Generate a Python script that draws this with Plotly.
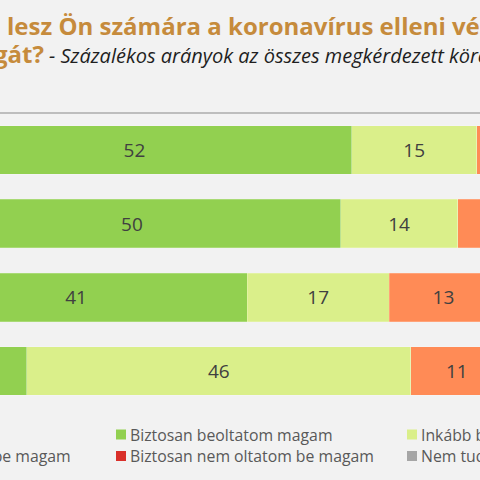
import plotly.graph_objects as go

# ---- data ----
categories = ["1. csoport", "2. csoport", "3. csoport", "4. csoport"]
offset = [10.1, 10.8, 8.6, 15.2]          # invisible helper series (diverging layout)
biztosan_igen = [52, 50, 41, 8]
inkabb_igen = [15, 14, 17, 46]
inkabb_nem = [3, 7, 13, 11]
biztosan_nem = [20, 21, 21, 9]
nem_tudja = [10, 8, 8, 26]

series = [
    ("Biztosan beoltatom magam", biztosan_igen, "#92D050"),
    ("Inkább beoltatom magam", inkabb_igen, "#DAEF8A"),
    ("Inkább nem oltatom be magam", inkabb_nem, "#FF8B56"),
    ("Biztosan nem oltatom be magam", biztosan_nem, "#D9302A"),
    ("Nem tudja", nem_tudja, "#A6A6A6"),
]

BG = "#F2F2F2"
W, H = 480, 480
T, B = 113, 72
PH = H - T - B

def px(x):
    return x / W

def py(y):
    return (H - B - y) / PH

fig = go.Figure()
fig.add_trace(go.Bar(
    y=categories, x=offset, orientation="h", name="",
    marker=dict(color="rgba(0,0,0,0)"), hoverinfo="skip", showlegend=False,
))
for name, vals, col in series:
    fig.add_trace(go.Bar(
        y=categories, x=vals, orientation="h", name=name,
        marker=dict(color=col, line=dict(color="rgba(255,255,255,0.35)", width=0.6)),
        text=vals, texttemplate="%{text}", textposition="inside",
        insidetextanchor="middle", textangle=0, constraintext="none",
        textfont=dict(family="Open Sans", size=19, color="#404040"),
        showlegend=False,
    ))

k = 8.35
x0 = 20
fig.update_layout(
    width=W, height=H,
    margin=dict(l=0, r=0, t=T, b=B, pad=0),
    paper_bgcolor=BG, plot_bgcolor=BG,
    barmode="stack", bargap=0.34,
    showlegend=False,
    xaxis=dict(range=[x0, x0 + W / k], visible=False, fixedrange=True),
    yaxis=dict(categoryorder="array", categoryarray=categories, autorange="reversed",
               showticklabels=False, showgrid=False, zeroline=False, showline=False),
    font=dict(family="Open Sans"),
)

# top border line
fig.add_shape(type="line", xref="paper", yref="paper", x0=0, x1=1, y0=py(113), y1=py(113),
              line=dict(color="#ABABAB", width=1.5))

# title
title_col = "#C68B3C"
fig.add_annotation(xref="paper", yref="paper", x=px(2), y=py(25.7), xanchor="right", yanchor="middle",
                   text="<b>Mennyire valószínű, hogy ha elérhető</b>", showarrow=False,
                   font=dict(family="Open Sans", size=24, color=title_col))
fig.add_annotation(xref="paper", yref="paper", x=px(5), y=py(25.7), xanchor="left", yanchor="middle",
                   text="<b>lesz Ön számára a koronavírus elleni védőoltás, beoltatja</b>", showarrow=False,
                   font=dict(family="Open Sans", size=24, color=title_col))
fig.add_annotation(xref="paper", yref="paper", x=px(46), y=py(53.7), xanchor="right", yanchor="middle",
                   text="<b>magát?</b>", showarrow=False,
                   font=dict(family="Open Sans", size=24, color=title_col))
fig.add_annotation(xref="paper", yref="paper", x=px(47), y=py(55.2), xanchor="left", yanchor="middle",
                   text="<i>- Százalékos arányok az összes megkérdezett körében</i>", showarrow=False,
                   font=dict(family="Open Sans", size=20, color="#1F1F1F"))

# legend (manual, 3 columns x 2 rows)
col_x = [-175, 116, 407]
row_y = [434.5, 456]
pos = {0: (0, 1), 1: (0, 2), 2: (1, 0), 3: (1, 1), 4: (1, 2)}
for i, (name, vals, col) in enumerate(series):
    r, c = pos[i]
    mx = col_x[c]
    my = row_y[r]
    fig.add_shape(type="rect", xref="paper", yref="paper",
                  x0=px(mx), x1=px(mx + 10), y0=py(my - 5), y1=py(my + 5),
                  fillcolor=col, line=dict(width=0))
    fig.add_annotation(xref="paper", yref="paper", x=px(mx + 12), y=py(my), xanchor="left",
                       yanchor="middle", text=name, showarrow=False,
                       font=dict(family="Open Sans", size=15.8, color="#595959"))

fig.write_html("out.html")
